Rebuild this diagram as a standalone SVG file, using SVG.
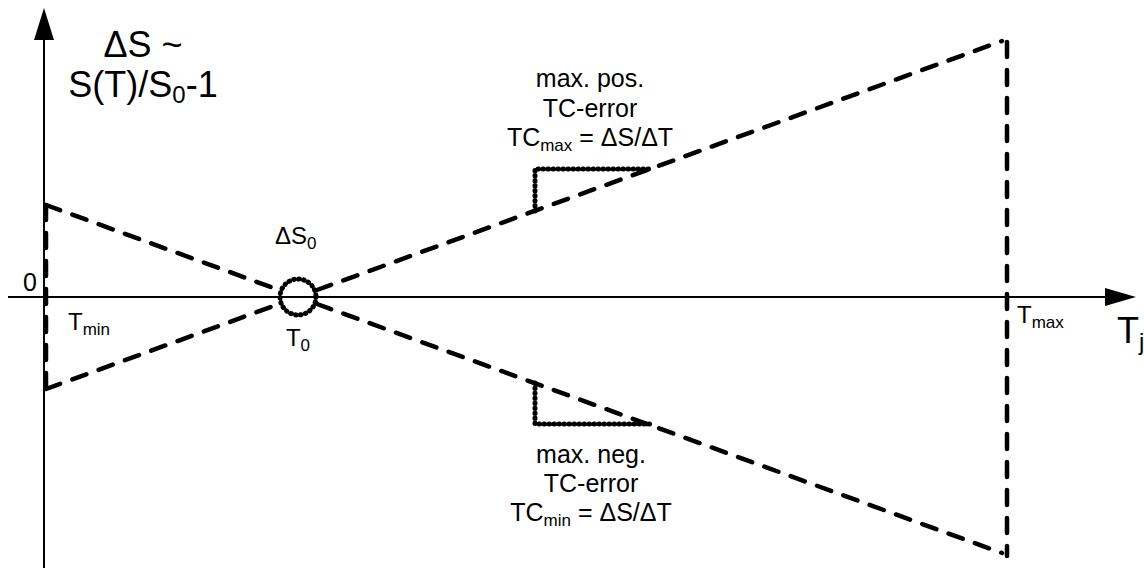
<svg xmlns="http://www.w3.org/2000/svg" width="1144" height="568" viewBox="0 0 1144 568">
<style>
text{font-family:"Liberation Sans",Arial,sans-serif;fill:#000}
.axis{stroke:#000;stroke-width:2;fill:none}
.dash{stroke:#000;stroke-width:4.5;fill:none;stroke-dasharray:15 13;stroke-linecap:round}
.dot{stroke:#000;stroke-width:5;fill:none;stroke-dasharray:0.5 4.5;stroke-linecap:round}
.big{font-size:36px}
.mid{font-size:25px}
.sm{font-size:24px}
</style>
<rect width="1144" height="568" fill="#fff"/>
<g id="connectors">
<g id="axes">
<line class="axis" x1="44" y1="568" x2="44" y2="38"/>
<polygon points="44,8 34,40 54,40" fill="#000"/>
<line class="axis" x1="8" y1="297" x2="1107" y2="297"/>
<polygon points="1136,297 1105,288 1105,306" fill="#000"/>
</g>
<g id="bounds">
<line class="dash" x1="46" y1="205" x2="46" y2="389"/>
<line class="dash" x1="1007" y1="42" x2="1007" y2="556"/>
<line class="dash" x1="46" y1="205" x2="279" y2="290"/>
<line class="dash" x1="317" y1="304" x2="1002" y2="553"/>
<line class="dash" x1="46" y1="389" x2="279" y2="304"/>
<line class="dash" x1="317" y1="290" x2="1002" y2="41"/>
</g>
<g id="steps">
<polyline class="dot" points="535,211 535,169 652,169"/>
<polyline class="dot" points="535,383 535,424 652,424"/>
</g>
</g>
<g id="node-T0">
<circle class="dot" cx="298" cy="297" r="18"/>
</g>
<g id="labels">
<text class="big" text-anchor="middle" x="143" y="57">ΔS ~</text>
<text class="big" text-anchor="middle" x="143" y="97">S(T)/S<tspan font-size="24" dy="6">0</tspan><tspan dy="-6">-1</tspan></text>
<text x="23" y="291" font-size="25">0</text>
<text class="sm" x="275" y="244">ΔS<tspan font-size="17" dy="5">0</tspan></text>
<text class="sm" x="68" y="330">T<tspan font-size="17" dy="5">min</tspan></text>
<text class="sm" text-anchor="middle" x="298" y="346">T<tspan font-size="17" dy="5">0</tspan></text>
<text class="sm" x="1017" y="323">T<tspan font-size="17" dy="5">max</tspan></text>
<text class="big" x="1117" y="343">T<tspan font-size="24" dy="7">j</tspan></text>
</g>
<g id="label-pos">
<text class="mid" text-anchor="middle" x="590" y="87">max. pos.</text>
<text class="mid" text-anchor="middle" x="590" y="117">TC-error</text>
<text class="mid" text-anchor="middle" x="590" y="146">TC<tspan font-size="17" dy="5">max</tspan><tspan dy="-5"> = ΔS/ΔT</tspan></text>
</g>
<g id="label-neg">
<text class="mid" text-anchor="middle" x="591" y="463">max. neg.</text>
<text class="mid" text-anchor="middle" x="591" y="492">TC-error</text>
<text class="mid" text-anchor="middle" x="591" y="521">TC<tspan font-size="17" dy="5">min</tspan><tspan dy="-5"> = ΔS/ΔT</tspan></text>
</g>
</svg>
